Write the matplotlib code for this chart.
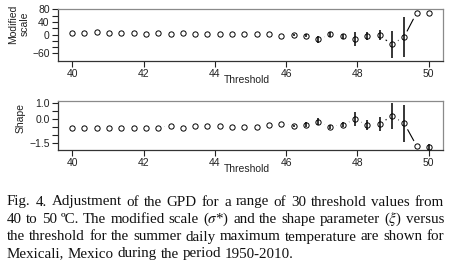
import numpy as np
import matplotlib
matplotlib.use("Agg")
import matplotlib.pyplot as plt

plt.rcParams['font.family'] = ['Liberation Sans', 'DejaVu Sans']
plt.rcParams['mathtext.fontset'] = 'stix'

# 30 thresholds from 40 to 50 degrees C
thresholds = [40.00, 40.34, 40.69, 41.03, 41.38, 41.72, 42.07, 42.41, 42.76, 43.10,
              43.45, 43.79, 44.14, 44.48, 44.83, 45.17, 45.52, 45.86, 46.21, 46.55,
              46.90, 47.24, 47.59, 47.93, 48.28, 48.62, 48.97, 49.31, 49.66, 50.00]

# modified scale and its confidence half-width
mod_scale = [5.6, 3.5, 6.7, 5.6, 3.5, 5.6, 2.4, 4.5, 1.4, 4.5,
             1.4, 1.4, 0.3, 0.3, 0.3, 0.3, 0.3, -4.9, -1.8, -3.9,
             -15.5, 0.3, -4.9, -14.4, -3.9, -2.8, -31.3, -7.1, 68.8, 68.8]
mod_scale_err = [0, 0, 0, 0, 0, 0, 0, 0, 0, 0,
                 0, 0, 0, 0, 0, 0, 0, 0, 3, 4,
                 12, 7.4, 8, 22, 13, 16, 42, 63, 0, 0]

# shape parameter and its confidence half-width
shape = [-0.56, -0.56, -0.52, -0.54, -0.52, -0.52, -0.52, -0.52, -0.44, -0.54,
         -0.44, -0.44, -0.44, -0.46, -0.46, -0.46, -0.38, -0.31, -0.42, -0.35,
         -0.15, -0.46, -0.35, 0.0, -0.35, -0.29, 0.2, -0.25, -1.66, -1.74]
shape_err = [0, 0, 0, 0, 0, 0, 0, 0, 0, 0,
             0, 0, 0, 0, 0, 0, 0, 0, 0.06, 0.16,
             0.2, 0.12, 0.16, 0.45, 0.31, 0.43, 0.8, 1.14, 0, 0.17]

caption = [
    "Fig. 4. Adjustment of the GPD for a range of 30 threshold values from",
    "40 to 50 ºC. The modified scale ($\\sigma$*) and the shape parameter ($\\xi$) versus",
    "the threshold for the summer daily maximum temperature are shown for",
    "Mexicali, Mexico during the period 1950-2010.",
]

W, H = 453, 267
fig = plt.figure(figsize=(W / 100, H / 100), dpi=100)


def px_axes(left, top, right, bottom):
    return fig.add_axes([left / W, 1 - bottom / H, (right - left) / W, (bottom - top) / H])


def panel(ax, y, yerr, ylim, yticks, ylabels):
    x = np.array(thresholds)
    y = np.array(y)
    e = np.array(yerr)
    ax.plot(x, y, color='black', lw=0.8, zorder=1)
    ax.plot(x, y, 'o', ms=9.6, mfc='white', mec='none', zorder=1.5)
    m = e > 0
    ax.vlines(x[m], y[m] - e[m], y[m] + e[m], color='black', lw=1.1, zorder=2)
    ax.plot(x, y, 'o', ms=3.8, mfc='none', mec='black', mew=0.7, zorder=3)
    ax.set_xlim(39.6, 50.4)
    ax.set_ylim(*ylim)
    ax.set_xticks([40, 42, 44, 46, 48, 50])
    ax.set_yticks(yticks)
    ax.set_yticklabels(ylabels)
    ax.tick_params(direction='out', length=4, width=0.8, labelsize=7.5, pad=2, colors='#222222')
    for s in ['left', 'bottom']:
        ax.spines[s].set_color('#333333')
        ax.spines[s].set_linewidth(0.9)
    for s in ['top', 'right']:
        ax.spines[s].set_color('#8a8a8a')
        ax.spines[s].set_linewidth(0.9)
    for s in ax.spines.values():
        s.set_zorder(2.5)


ax1 = px_axes(58, 9, 443, 61)
panel(ax1, mod_scale, mod_scale_err, (-84, 81),
      [80, 60, 40, 20, 0, -20, -40, -60], ['80', '', '40', '', '0', '', '', '\u221260'])

ax2 = px_axes(58, 101, 443, 150)
panel(ax2, shape, shape_err, (-1.92, 1.14),
      [1.0, 0.5, 0.0, -0.5, -1.0, -1.5], ['1.0', '', '0.0', '', '', '\u22121.5'])

fig.text(19 / W, 1 - 24 / H, "Modified\nscale", rotation=90, ha='center', va='center',
         fontsize=7.5, linespacing=1.1, color='#222222')
fig.text(21 / W, 1 - 118 / H, "Shape", rotation=90, ha='center', va='center',
         fontsize=7.5, color='#222222')
fig.text(247 / W, 1 - 80 / H, "Threshold", ha='center', va='center', fontsize=7.5, color='#222222')
fig.text(247 / W, 1 - 169 / H, "Threshold", ha='center', va='center', fontsize=7.5, color='#222222')

# justified caption
renderer = fig.canvas.get_renderer()
x0, x1 = 7, 444
line_y = [202, 219.5, 237, 254]
for i, (line, yy) in enumerate(zip(caption, line_y)):
    words = line.split(' ')
    texts = [fig.text(0, 1 - yy / H, w, fontsize=10.8, family='Liberation Serif',
                      ha='left', va='center', color='#111111') for w in words]
    widths = [t.get_window_extent(renderer).width for t in texts]
    if i < len(caption) - 1:
        gap = (x1 - x0 - sum(widths)) / (len(words) - 1)
    else:
        gap = 3.6
    x = x0
    for t, w in zip(texts, widths):
        t.set_x(x / W)
        x += w + gap

fig.savefig('out.png', dpi=100)
